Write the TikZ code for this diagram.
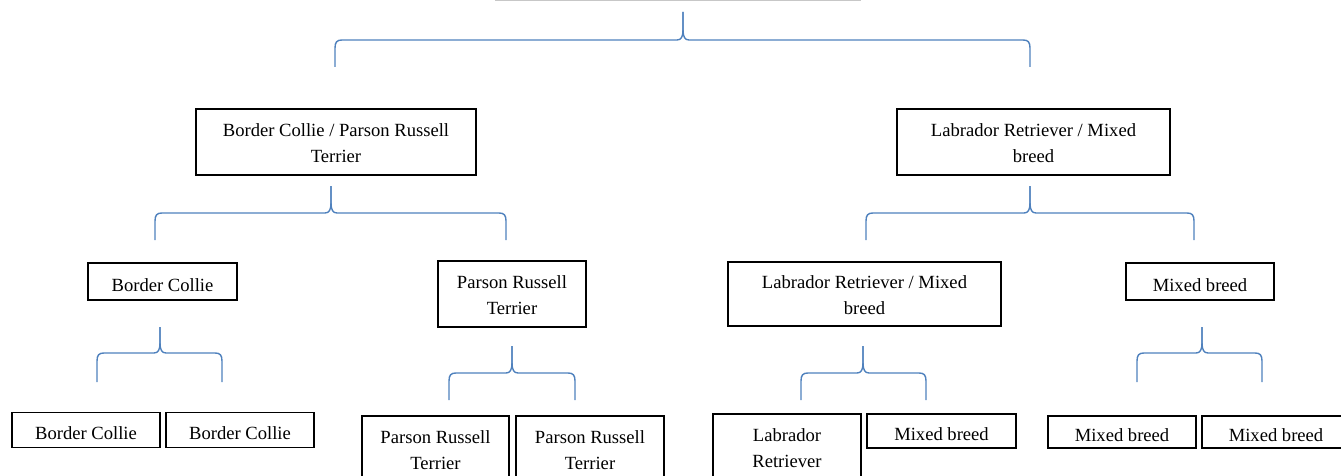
\documentclass[tikz,border=0pt]{standalone}
\usepackage{fontspec}
\setmainfont{Liberation Serif}
\definecolor{bracecol}{HTML}{4F81BD}
\newcommand\cbrace[6]{%
  \draw[br] (#1,#6) -- (#1,#5+8) .. controls (#1,#5+2) and (#1+2,#5) .. (#1+7,#5)
    -- (#3-6,#5) .. controls (#3-2,#5) and (#3,#5-3) .. (#3,#5-10) -- (#3,#4);
  \draw[br] (#3,#4) -- (#3,#5-10) .. controls (#3,#5-3) and (#3+2,#5) .. (#3+6,#5)
    -- (#2-7,#5) .. controls (#2-2,#5) and (#2,#5+2) .. (#2,#5+8) -- (#2,#6);}
\newcommand\tx[2][2.5pt]{\raisebox{-#1}[\height][\depth]{\begin{tabular}{@{}c@{}}#2\end{tabular}}}
\begin{document}
\begin{tikzpicture}[x=1pt,y=-1pt,
  box/.style={draw=black, line width=1.4pt, inner sep=0pt,
    font=\fontsize{18.6}{25.5}\selectfont},
  br/.style={draw=bracecol, line width=1.4pt, line join=round}]
\useasboundingbox (0,0) rectangle (1341,476);
\clip (0,0) rectangle (1341,476);
% cut-off top box
\node[draw=black!22, line width=1.4pt, minimum width=364pt, minimum height=60pt, inner sep=0pt] (root) at (678,-29.5) {};
% level 1
\node[box, minimum width=280pt, minimum height=66pt] (a) at (336,142) {\tx{Border Collie / Parson Russell\\Terrier}};
\node[box, minimum width=273pt, minimum height=66pt] (b) at (1033.5,142) {\tx{Labrador Retriever / Mixed\\breed}};
% level 2
\node[box, minimum width=149pt, minimum height=37pt] (c) at (162.5,281.5) {\tx[4.5pt]{Border Collie}};
\node[box, minimum width=148pt, minimum height=66pt] (d) at (512,294) {\tx{Parson Russell\\Terrier}};
\node[box, minimum width=273pt, minimum height=64pt] (e) at (864.5,294) {\tx{Labrador Retriever / Mixed\\breed}};
\node[box, minimum width=148pt, minimum height=37pt] (f) at (1200,281.5) {\tx[4.5pt]{Mixed breed}};
% level 3
\node[box, minimum width=148pt, minimum height=35pt] (g) at (86,430) {\tx[4.5pt]{Border Collie}};
\node[box, minimum width=148pt, minimum height=35pt] (h) at (240,430) {\tx[4.5pt]{Border Collie}};
\node[box, minimum width=147pt, minimum height=66pt] (i) at (435.5,449) {\tx{Parson Russell\\Terrier}};
\node[box, minimum width=148pt, minimum height=66pt] (j) at (590,449) {\tx{Parson Russell\\Terrier}};
\node[box, minimum width=148pt, minimum height=66pt] (k) at (787,447) {\tx{Labrador\\Retriever}};
\node[box, minimum width=149pt, minimum height=34pt] (l) at (941.5,431) {\tx[4.5pt]{Mixed breed}};
\node[box, minimum width=148pt, minimum height=32pt] (m) at (1122,432) {\tx[4.5pt]{Mixed breed}};
\node[box, minimum width=148pt, minimum height=32pt] (n) at (1276,432) {\tx[4.5pt]{Mixed breed}};
% braces
\cbrace{335}{1030}{683}{12}{40}{67}
\cbrace{155}{506}{331}{186}{213}{240}
\cbrace{866}{1194}{1030}{186}{213}{240}
\cbrace{97}{222}{160}{327}{353}{382}
\cbrace{449}{575}{512}{346}{373}{400}
\cbrace{801}{926}{863}{346}{373}{400}
\cbrace{1137}{1262}{1202}{327}{353}{382}
\end{tikzpicture}
\end{document}
